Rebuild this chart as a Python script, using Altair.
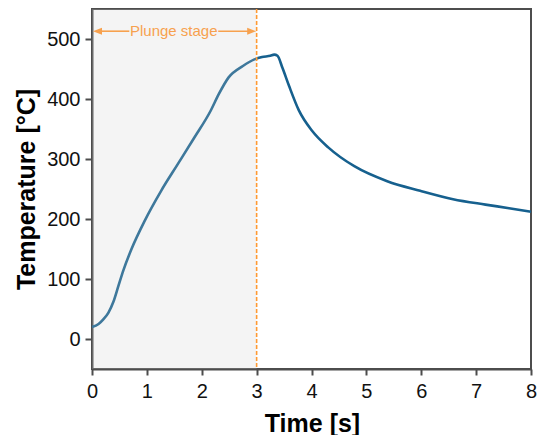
import altair as alt
import pandas as pd

# Temperature curve
time_s = [0.0, 0.12, 0.21, 0.3, 0.39, 0.48, 0.57, 0.72, 0.96, 1.26, 1.56, 1.86, 2.16, 2.31,
          2.49, 2.75, 2.96, 3.1, 3.25, 3.32, 3.38, 3.47, 3.59, 3.77, 4.01, 4.31,
          4.78, 5.38, 5.98, 6.58, 7.17, 7.6, 8.0]
temp_c = [20, 25, 33, 44, 62, 88, 114, 150, 197, 247, 291, 335, 380, 408,
          436, 455, 466, 470, 472, 474, 472, 452, 422, 381, 347, 319,
          288, 263, 247, 233, 224, 218, 212]

stage_start = [0.0]
stage_end = [3.0]
stage_label = ["Plunge stage"]
label_x = [1.49]
label_y = [513]
seg_x1 = [0.17, 2.3]
seg_x2 = [0.68, 2.88]
head_x = [0.1, 2.91]
head_shape = ["M-1,0L1,-0.78L1,0.78Z", "M1,0L-1,-0.78L-1,0.78Z"]

x_ticks = list(range(0, 9))
y_ticks = list(range(0, 501, 50))

FONT = "Liberation Sans"
ORANGE = "#f7a14e"
DASH = "#ff9a33"
BLUE = "#16608e"

xs = alt.Scale(domain=[0, 8], nice=False, zero=False, padding=0)
ys = alt.Scale(domain=[-50, 550], nice=False, zero=False, padding=0)

curve = pd.DataFrame({"t": time_s, "T": temp_c})
line = alt.Chart(curve).mark_line(color=BLUE, strokeWidth=2.6, interpolate="monotone").encode(
    x=alt.X("t:Q", scale=xs,
            axis=alt.Axis(values=x_ticks, format="d", title="Time [s]", grid=False, tickSize=6,
                          labelPadding=6, labelFontSize=20, titleFontSize=25,
                          titleFontWeight="bold", titleBaseline="alphabetic",
                          titleX=220, titleY=62, labelFlush=False)),
    y=alt.Y("T:Q", scale=ys,
            axis=alt.Axis(values=y_ticks, title="Temperature [°C]", grid=False,
                          tickSize={"condition": {"test": "datum.value % 100 === 0", "value": 7}, "value": 4},
                          labelExpr="datum.value % 100 === 0 ? datum.label : ''",
                          labelPadding=5, labelFontSize=20, titleFontSize=25,
                          titleFontWeight="bold", titleBaseline="alphabetic",
                          titleAngle=-90, titleX=-58, titleY=180, labelFlush=False)),
)

stage = pd.DataFrame({"x1": stage_start, "x2": stage_end, "lab": stage_label,
                      "lx": label_x, "ly": label_y})
shade = alt.Chart(stage).mark_rect(color="#cccccc", opacity=0.22).encode(
    x=alt.X("x1:Q", scale=xs), x2="x2:Q",
    y=alt.datum(-50, scale=ys), y2=alt.datum(550))

vline = alt.Chart(stage).mark_rule(color=DASH, strokeDash=[4, 2], strokeWidth=1.6).encode(
    x=alt.X("x2:Q", scale=xs))

text = alt.Chart(stage).mark_text(color=ORANGE, fontSize=15, font=FONT).encode(
    x=alt.X("lx:Q", scale=xs), y=alt.Y("ly:Q", scale=ys), text="lab:N")

segs = pd.DataFrame({"a": seg_x1, "b": seg_x2, "y": [513, 513]})
arrow_lines = alt.Chart(segs).mark_rule(color=ORANGE, strokeWidth=1.6).encode(
    x=alt.X("a:Q", scale=xs), x2="b:Q", y=alt.Y("y:Q", scale=ys))

heads = pd.DataFrame({"x": head_x, "y": [513, 513], "s": head_shape})
arrow_heads = alt.Chart(heads).mark_point(filled=True, color=ORANGE, opacity=1, size=81).encode(
    x=alt.X("x:Q", scale=xs), y=alt.Y("y:Q", scale=ys),
    shape=alt.Shape("s:N", scale=None))

chart = alt.layer(line, shade, vline, arrow_lines, arrow_heads, text).properties(
    width=439, height=360,
    autosize=alt.AutoSizeParams(type="none"),
    padding={"left": 84, "top": 1, "right": 6, "bottom": 66},
).configure_view(stroke="#4d4d4d", strokeWidth=2).configure_axis(
    domainColor="#4d4d4d", domainWidth=2, tickColor="#4d4d4d", tickWidth=2,
    labelColor="#111111", titleColor="#000000", labelFont=FONT, titleFont=FONT,
)

chart.save("out.html", embed_options={"renderer": "svg", "actions": False})
